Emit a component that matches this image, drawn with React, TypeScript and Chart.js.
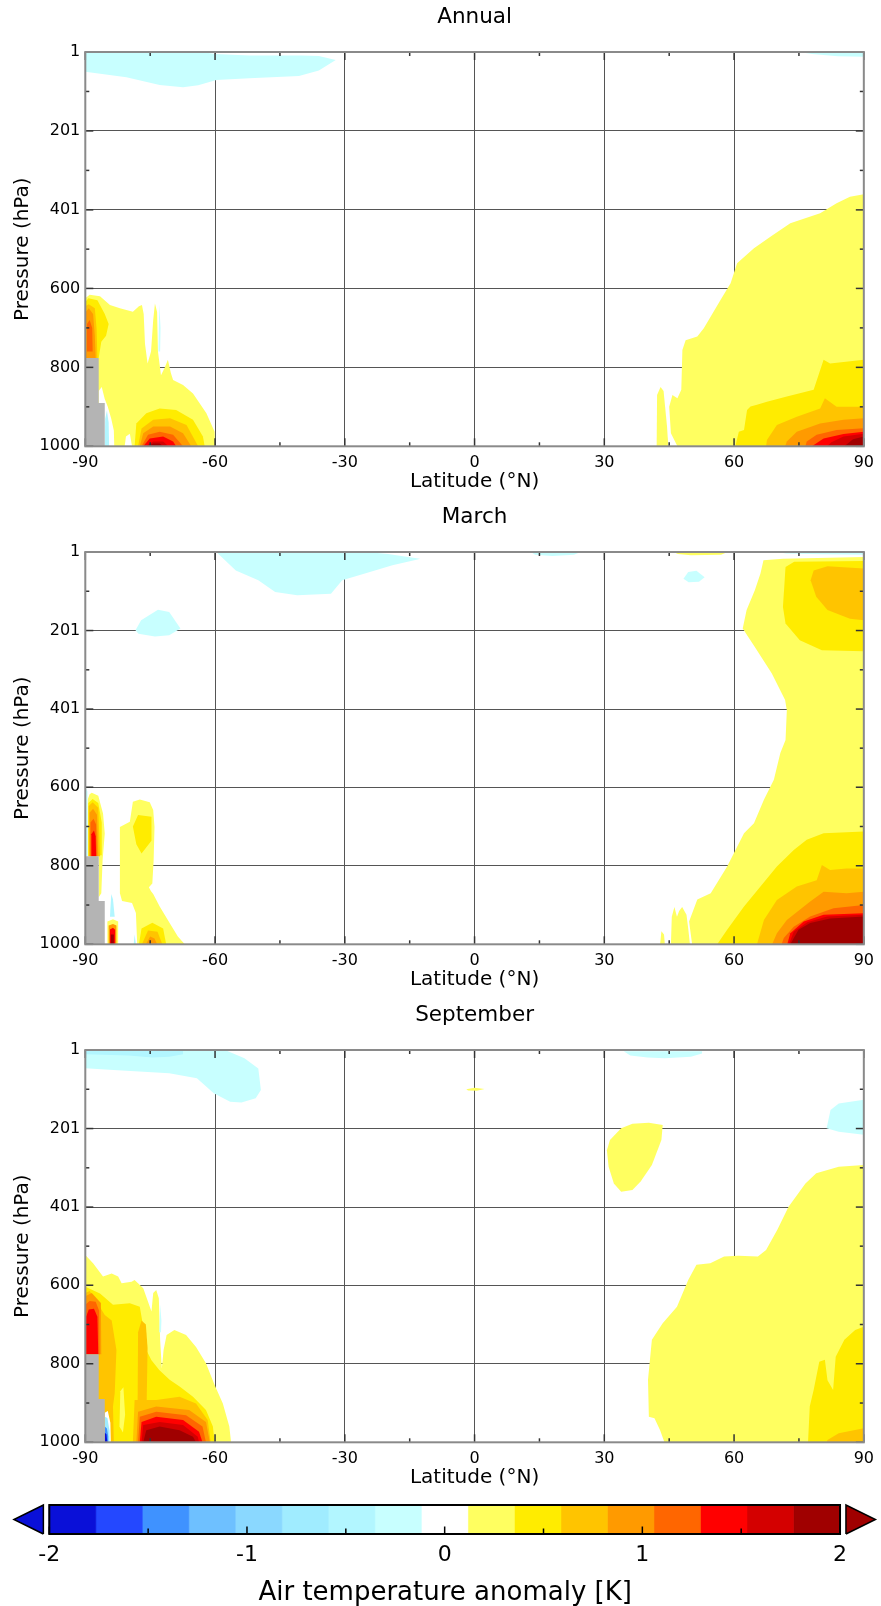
import React, { useEffect, useRef } from 'react';
import { Chart, registerables } from 'chart.js';

Chart.register(...registerables);
Chart.defaults.font.family = "'DejaVu Sans', sans-serif";
Chart.defaults.color = '#000';

// ---- colour scale: 17 bins from -2 to 2 K ----
const LEVEL_COLORS = [
  '#0a10d8', '#2448ff', '#3f92ff', '#6ec0ff', '#8ad8ff', '#a0ecff', '#b2f6ff', '#c8ffff',
  '#ffffff',
  '#ffff60', '#ffec00', '#ffc400', '#ff9a00', '#ff6600', '#ff0000', '#d40000', '#a00000',
];
const LAND_COLOR = '#b4b4b4';
const CBAR_MIN = -2;
const CBAR_MAX = 2;
const CBAR_TICKS = [-2, -1, 0, 1, 2];
const CBAR_MINOR = [-1.5, -0.5, 0.5, 1.5];

// ---- axes ----
const LAT_TICKS = [-90, -60, -30, 0, 30, 60, 90];
const LAT_MINOR = [-75, -45, -15, 15, 45, 75];
const P_TICKS = [1, 201, 401, 600, 800, 1000];
const P_MINOR = [101, 301, 500.5, 700, 900];

type Pt = [number, number]; // [latitude, pressure]
type Shape = [number, Pt[]]; // [level index (or -1 = land), outline]

const LAND: Pt[] = [[-90, 776], [-86.9, 776], [-86.9, 890], [-85.5, 890], [-85.5, 1000], [-90, 1000]];

// ---- Annual ----
const ANNUAL: Shape[] = [
  [7, [[-90, 1], [-63, 1], [-60, 6], [-52, 10], [-40, 10], [-36, 11], [-32.1, 21], [-36, 48], [-40.6, 61.8], [-52.1, 67.7], [-59.7, 72], [-63.9, 85], [-67.4, 90.5], [-72.8, 84.6], [-80.5, 65], [-90, 51]]],
  [7, [[75, 1], [90, 1], [90, 13], [84, 12], [78, 6]]],
  [9, [[-90, 625], [-89, 616], [-86.6, 620], [-84.3, 642], [-82, 650], [-79, 659], [-77.6, 645], [-76.9, 642], [-76.5, 665], [-76.2, 740], [-75.6, 790], [-74.8, 760], [-74.3, 680], [-73.9, 638], [-73.4, 660], [-73.2, 760], [-72.5, 820], [-71.6, 800], [-70.9, 781], [-70.2, 815], [-69.7, 832], [-67.4, 845], [-65.1, 866], [-62, 916], [-60.1, 963], [-60, 1000], [-90, 1000]]],
  [8, [[-86.9, 860], [-86.2, 850], [-85.5, 880], [-84.8, 900], [-84, 930], [-83.4, 960], [-83.3, 1000], [-86.9, 1000]]],
  [6, [[-85.5, 1000], [-85.4, 930], [-85, 910], [-84.6, 940], [-84.5, 1000]]],
  [8, [[-80.9, 1000], [-80.6, 975], [-79.7, 968], [-79.2, 1000]]],
  [7, [[-73.1, 760], [-72.9, 640], [-72.6, 700], [-72.7, 760]]],
  [10, [[-90, 635], [-89.3, 625], [-87.2, 630], [-85.5, 665], [-84.6, 690], [-85.2, 720], [-86.3, 735], [-86.9, 776], [-90, 776]]],
  [11, [[-90, 645], [-89.2, 640], [-87.8, 650], [-87.4, 700], [-87.2, 776], [-90, 776]]],
  [12, [[-89.9, 660], [-89.2, 650], [-88.2, 665], [-87.8, 720], [-87.6, 776], [-89.9, 776]]],
  [13, [[-89.6, 690], [-89, 680], [-88.4, 700], [-88.3, 760], [-89.6, 760]]],
  [10, [[-78.6, 1000], [-78.2, 942], [-75.9, 916], [-72.8, 904], [-69, 908], [-65.1, 933], [-62.8, 975], [-62.4, 1000]]],
  [11, [[-77.8, 1000], [-77, 955], [-74.3, 933], [-70.4, 929], [-66.6, 946], [-63.9, 1000]]],
  [12, [[-77.4, 1000], [-76.6, 967], [-74.3, 950], [-70.4, 950], [-67.4, 967], [-65.5, 1000]]],
  [13, [[-77, 1000], [-75.5, 971], [-72.8, 963], [-69.7, 971], [-67.4, 1000]]],
  [14, [[-76.6, 1000], [-75.1, 980], [-72, 975], [-69.7, 988], [-69, 1000]]],
  [15, [[-76, 1000], [-74.3, 988], [-72, 988], [-70.8, 1000]]],
  [16, [[-75.5, 1000], [-74.3, 993], [-72.8, 993], [-72, 1000]]],
  [9, [[90, 361.6], [86.8, 367.6], [83.7, 384], [79.9, 409.7], [73, 435], [68.4, 469], [64.6, 498], [60.7, 536.5], [59.2, 587], [56.9, 629], [53, 701], [51.5, 722], [48.8, 731], [48.05, 756], [47.8, 857], [46.9, 878], [45.75, 870], [45, 900], [45.4, 967], [46.9, 1000], [90, 1000]]],
  [9, [[42.1, 1000], [42.2, 870], [43, 850], [43.7, 860], [44.5, 950], [44.8, 1000]]],
  [10, [[90, 781], [82.2, 790], [80.7, 781], [78.4, 857], [72.2, 874], [67.6, 887], [65.3, 895], [63.8, 899], [63, 908], [62.3, 959], [61.1, 963], [60.3, 1000], [90, 1000]]],
  [11, [[90, 900], [83.7, 900], [81, 878], [79.9, 904], [74.5, 925], [69.9, 946], [67.6, 984], [67.4, 1000], [90, 1000]]],
  [12, [[90, 929], [85.3, 933], [79.9, 942], [74.5, 963], [72.2, 988], [71.8, 1000], [90, 1000]]],
  [13, [[90, 954], [83.7, 959], [79.1, 971], [76.8, 988], [76.5, 1000], [90, 1000]]],
  [14, [[90, 963], [85.3, 969], [80.7, 980], [78, 1000], [90, 1000]]],
  [15, [[90, 968], [85.3, 975], [82.5, 990], [81.5, 1000], [90, 1000]]],
  [16, [[90, 975], [87.5, 982], [85.5, 1000], [90, 1000]]],
  [-1, LAND],
];

// ---- March ----
const MARCH: Shape[] = [
  [7, [[-59.7, 1], [-25, 1], [-20, 6], [-12.6, 18], [-13.2, 20], [-19, 35], [-24.2, 52], [-30.6, 73], [-33.2, 107], [-41, 111], [-46.1, 103], [-50, 73], [-55.2, 48], [-57.7, 22]]],
  [7, [[-78.4, 200], [-77.1, 175], [-73.2, 148], [-70.6, 154], [-68, 196], [-70.6, 213], [-73.9, 216], [-77.7, 209]]],
  [7, [[48.3, 69], [49.4, 52], [51.3, 49], [53.2, 65], [51.9, 77], [49.5, 78]]],
  [7, [[13, 1], [24.5, 1], [23, 8], [18, 11], [14, 8]]],
  [9, [[46, 1], [58.5, 1], [57, 8], [50, 9], [47, 6]]],
  [7, [[70, 1], [90, 1], [90, 8], [80, 7], [72, 5]]],
  [9, [[90, 13.7], [71.3, 18], [66.8, 22], [66.1, 56], [64.8, 98.5], [62.9, 149], [62, 196], [64.8, 243], [68.7, 310], [71.8, 378], [72.2, 404], [71.9, 480], [70.7, 513], [69.2, 581], [66.9, 632], [64.6, 692], [62.3, 717], [58.4, 802], [54.6, 870], [51.5, 886], [49.6, 942], [50.3, 1000], [90, 1000]]],
  [9, [[45.4, 1000], [45.6, 930], [46.2, 905], [46.8, 930], [47.3, 915], [48, 905], [49, 925], [49.4, 960], [49.8, 1000]]],
  [9, [[42.9, 1000], [43.2, 967], [43.8, 975], [44, 1000]]],
  [10, [[90, 24], [73.9, 26], [71.9, 39], [71.3, 141], [71.9, 183], [75.2, 226], [80.3, 251], [90, 254]]],
  [11, [[90, 43], [81.6, 37], [78.4, 48], [77.7, 73], [79, 115], [81.6, 149], [86.8, 171], [90, 175]]],
  [10, [[90, 713], [80.7, 717], [76.8, 734], [73.8, 760], [69.9, 802], [66.1, 853], [62.3, 904], [58.4, 963], [56.1, 1000], [90, 1000]]],
  [11, [[90, 807], [86, 807], [82.2, 811], [80.3, 798], [79.1, 837], [74.5, 853], [69.9, 887], [66.9, 938], [65.3, 1000], [90, 1000]]],
  [12, [[90, 866], [86, 870], [80.7, 866], [77.6, 891], [72.2, 938], [69.9, 972], [68.8, 1000], [90, 1000]]],
  [13, [[90, 900], [83, 908], [77.6, 929], [73.8, 955], [71.5, 984], [71, 1000], [90, 1000]]],
  [14, [[90, 921], [80.7, 925], [76.1, 942], [73, 972], [72.3, 1000], [90, 1000]]],
  [15, [[90, 925], [81.5, 929], [76.9, 944], [73.8, 968], [72.7, 1000], [90, 1000]]],
  [16, [[90, 929], [82.2, 934], [77.6, 946], [74.9, 963], [73, 1000], [90, 1000]]],
  [7, [[-90, 600], [-89.5, 610], [-89.4, 776], [-90, 776]]],
  [9, [[-89.4, 630], [-89, 618], [-88.5, 614], [-87, 622], [-85.9, 667], [-85.5, 718], [-86, 786], [-86.3, 870], [-86.9, 880], [-86.9, 776], [-89.4, 776]]],
  [10, [[-89.3, 640], [-88.3, 630], [-87, 640], [-86.2, 690], [-86.2, 773], [-89.3, 776]]],
  [11, [[-89.2, 648], [-88.3, 638], [-87, 652], [-86.6, 776], [-89.2, 776]]],
  [12, [[-89, 665], [-88.2, 655], [-87.3, 670], [-87, 776], [-89, 776]]],
  [13, [[-88.8, 690], [-88.1, 680], [-87.5, 695], [-87.3, 776], [-88.8, 776]]],
  [14, [[-88.6, 720], [-88, 710], [-87.6, 725], [-87.5, 776], [-88.6, 776]]],
  [9, [[-82, 701], [-79.7, 688], [-79, 637], [-77.4, 631], [-75.1, 638], [-74.3, 658], [-74, 701], [-74.2, 786], [-74.5, 845], [-75.3, 855], [-74.8, 865], [-74.3, 872], [-72.8, 904], [-70.5, 946], [-68.6, 980], [-67, 1000], [-78, 1000], [-78.3, 920], [-79.2, 895], [-81.5, 890], [-82, 870]]],
  [10, [[-79, 700], [-77.8, 671], [-74.7, 675], [-74.7, 736], [-77, 769], [-78.2, 745]]],
  [10, [[-77.6, 1000], [-77, 960], [-74.5, 945], [-72, 960], [-71.3, 1000]]],
  [11, [[-76.9, 1000], [-75.5, 965], [-73.3, 968], [-72.2, 1000]]],
  [12, [[-76, 1000], [-75, 980], [-74, 985], [-73.4, 1000]]],
  [9, [[-84.9, 1000], [-84.9, 942], [-83.6, 936], [-82.4, 942], [-82.4, 1000]]],
  [12, [[-84.6, 1000], [-84.6, 952], [-83.6, 948], [-82.8, 952], [-82.8, 1000]]],
  [14, [[-84.4, 1000], [-84.3, 962], [-83.6, 958], [-83.1, 963], [-83.1, 1000]]],
  [16, [[-84.1, 1000], [-84.1, 975], [-83.4, 975], [-83.4, 1000]]],
  [6, [[-84.3, 930], [-84, 872], [-83.6, 885], [-83.2, 930]]],
  [6, [[-78.8, 1000], [-78.6, 975], [-78.3, 1000]]],
  [-1, LAND],
];

// ---- September ----
const SEPTEMBER: Shape[] = [
  [7, [[-90, 1], [-57.7, 1], [-53.2, 22], [-50, 48], [-49.4, 103], [-50.6, 124], [-53.9, 135], [-56.5, 133], [-60.3, 111], [-64.2, 73], [-70.6, 60], [-83.5, 52], [-90, 47.7]]],
  [6, [[-90, 1], [-67.4, 1], [-67.4, 12], [-70.6, 18], [-74.5, 20], [-80, 15], [-90, 12]]],
  [7, [[34.5, 4], [52.6, 4], [52.6, 10], [50, 18], [44, 22], [40, 20], [36, 15]]],
  [9, [[-1.9, 101], [0, 97], [2.3, 100], [0.5, 105], [-1.5, 104]]],
  [9, [[30.6, 256], [31.3, 230], [33.9, 200], [36.5, 189], [40.3, 186], [43.5, 192], [43.2, 230], [41, 294], [38.4, 336], [36.5, 357.5], [33.9, 362], [32.2, 341], [31, 298]]],
  [7, [[90, 128], [84.2, 137], [82.3, 154], [81.4, 200], [84.2, 209], [90, 217]]],
  [9, [[90, 294], [84.2, 298], [79, 315], [76.5, 341], [72.6, 400], [70, 459], [67.4, 510], [65.5, 527], [61, 525], [57.7, 527], [54.5, 544], [51.3, 548], [49.4, 587], [46.8, 655], [43.5, 697], [41, 739], [40.1, 841], [40.3, 935], [41.6, 939], [42.9, 969], [43.9, 1000], [90, 1000]]],
  [10, [[90, 706], [88, 714], [85.5, 739], [83.5, 782], [82.9, 867], [81.6, 842], [81, 790], [79.7, 795], [78.4, 867], [77.5, 909], [77.1, 1000], [90, 1000]]],
  [11, [[90, 964], [84.2, 977], [81.6, 994], [81.4, 1000], [90, 1000]]],
  [9, [[-90, 523], [-88.2, 544], [-85.9, 578], [-83.9, 570], [-82.4, 578], [-81.6, 595], [-79.3, 591], [-78.6, 587], [-76.6, 608], [-74.7, 667], [-74.3, 620], [-73.6, 612], [-73, 633], [-72.7, 739], [-72.3, 812], [-71.9, 765], [-71.2, 727], [-69.4, 714], [-66.7, 727], [-64.4, 757], [-62.1, 799], [-60.1, 854], [-58.2, 901], [-56.7, 960], [-56.3, 1000], [-90, 1000]]],
  [10, [[-90, 604], [-86.6, 621], [-83.6, 650], [-79.7, 646], [-77.4, 655], [-76.6, 706], [-75.9, 765], [-74.7, 791], [-72.9, 816], [-70.5, 841], [-68.2, 858], [-65.1, 884], [-62.1, 918], [-60.5, 960], [-60.1, 1000], [-90, 1000]]],
  [11, [[-90, 620], [-89, 615], [-87.5, 640], [-85.5, 676], [-83.9, 690], [-82.8, 765], [-83.2, 875], [-83.6, 909], [-83.4, 1000], [-90, 1000]]],
  [9, [[-82.1, 960], [-81.9, 870], [-81.2, 860], [-80.8, 930], [-81.3, 975]]],
  [11, [[-77.9, 892], [-77.8, 720], [-77, 690], [-76, 700], [-75.6, 760], [-75.8, 892]]],
  [12, [[-90, 628], [-88.5, 620], [-86.4, 645], [-86.3, 776], [-90, 776]]],
  [13, [[-90, 650], [-89, 640], [-87.6, 642], [-86.8, 665], [-86.7, 776], [-90, 776]]],
  [14, [[-89.8, 680], [-89.2, 662], [-88, 660], [-87.2, 680], [-87, 776], [-89.8, 776]]],
  [11, [[-79, 1000], [-78.6, 892], [-73.6, 892], [-68.2, 884], [-64.4, 901], [-61.7, 943], [-61, 1000]]],
  [12, [[-78.2, 1000], [-77.8, 922], [-73.6, 909], [-66, 918], [-62.1, 948], [-61.2, 1000]]],
  [13, [[-77.8, 1000], [-77.4, 935], [-73.6, 922], [-66.7, 931], [-62.9, 960], [-62.1, 1000]]],
  [14, [[-77.4, 1000], [-77, 948], [-73.6, 935], [-67.4, 943], [-63.7, 973], [-62.9, 1000]]],
  [15, [[-77, 1000], [-76.6, 956], [-72.8, 948], [-67.4, 956], [-64, 986], [-63.7, 1000]]],
  [16, [[-76.6, 1000], [-75.9, 969], [-72.8, 960], [-68.2, 969], [-65.1, 986], [-64.4, 1000]]],
  [8, [[-85.5, 1000], [-85.5, 925], [-84.8, 920], [-84.2, 950], [-84.1, 1000]]],
  [5, [[-85.5, 1000], [-85.5, 935], [-84.9, 938], [-84.4, 970], [-84.4, 1000]]],
  [2, [[-85.5, 1000], [-85.5, 960], [-85, 965], [-84.7, 985], [-84.7, 1000]]],
  [0, [[-85.5, 1000], [-85.5, 975], [-85.1, 980], [-84.9, 1000]]],
  [7, [[-72.9, 720], [-72.7, 650], [-72.4, 690], [-72.5, 720]]],
  [-1, LAND],
];

const PANELS = [
  { title: 'Annual', top: 0, height: 500, plotBottom: 446.3, shapes: ANNUAL },
  { title: 'March', top: 500, height: 500, plotBottom: 444.3, shapes: MARCH },
  { title: 'September', top: 998, height: 497, plotBottom: 444.3, shapes: SEPTEMBER },
];

function colorOf(level: number) {
  return level < 0 ? LAND_COLOR : LEVEL_COLORS[level];
}

function polygonDatasets(shapes: Shape[]) {
  return shapes.map(([level, pts], i) => ({
    data: [...pts, pts[0]].map(([x, y]) => ({ x, y })),
    fill: 'shape',
    backgroundColor: colorOf(level),
    borderColor: 'rgba(0,0,0,0)',
    borderWidth: 0,
    pointRadius: 0,
    pointHoverRadius: 0,
    tension: 0,
    order: shapes.length - i,
  }));
}

function strokeLine(ctx: CanvasRenderingContext2D, x1: number, y1: number, x2: number, y2: number) {
  ctx.beginPath();
  ctx.moveTo(x1, y1);
  ctx.lineTo(x2, y2);
  ctx.stroke();
}

const panelFrame = {
  id: 'panelFrame',
  afterDraw(chart: any) {
    const { ctx, chartArea: a, scales } = chart;
    const x = scales.x, y = scales.y;
    ctx.save();
    ctx.strokeStyle = '#333';
    ctx.lineWidth = 1.5;
    const xt = (vals: number[], len: number) => vals.forEach((v) => {
      const px = x.getPixelForValue(v);
      strokeLine(ctx, px, a.top, px, a.top + len);
      strokeLine(ctx, px, a.bottom, px, a.bottom - len);
    });
    const yt = (vals: number[], len: number) => vals.forEach((v) => {
      const py = y.getPixelForValue(v);
      strokeLine(ctx, a.left, py, a.left + len, py);
      strokeLine(ctx, a.right, py, a.right - len, py);
    });
    xt(LAT_TICKS, 8); xt(LAT_MINOR, 4);
    yt(P_TICKS, 8); yt(P_MINOR, 4);
    ctx.strokeStyle = '#8a8a8a';
    ctx.lineWidth = 2;
    ctx.strokeRect(a.left, a.top, a.right - a.left, a.bottom - a.top);
    ctx.restore();
  },
};

function Panel({ cfg }: { cfg: typeof PANELS[number] }) {
  const ref = useRef<HTMLCanvasElement>(null);
  useEffect(() => {
    const chart = new Chart(ref.current as HTMLCanvasElement, {
      type: 'line',
      data: { datasets: polygonDatasets(cfg.shapes) as any },
      plugins: [panelFrame],
      options: {
        animation: false,
        responsive: false,
        maintainAspectRatio: false,
        devicePixelRatio: 1,
        events: [],
        layout: { padding: { left: 0, right: 13.7, top: 0, bottom: cfg.height - cfg.plotBottom - 52 } },
        plugins: {
          legend: { display: false },
          tooltip: { enabled: false },
          title: {
            display: true,
            fullSize: false,
            text: cfg.title,
            color: '#000',
            font: { size: 21.5, weight: 'normal' as any, lineHeight: 1.2 },
            padding: { top: 4.5, bottom: 21.7 },
          },
        },
        scales: {
          x: {
            type: 'linear',
            min: -90,
            max: 90,
            z: 1,
            afterBuildTicks: (s: any) => { s.ticks = LAT_TICKS.map((v) => ({ value: v })); },
            afterFit: (s: any) => { s.height = 52; },
            ticks: { font: { size: 16 }, color: '#000', padding: 7, maxRotation: 0, autoSkip: false, callback: (v: any) => String(v) },
            grid: { color: '#555', lineWidth: 1, drawTicks: false },
            border: { display: false },
            title: { display: true, text: 'Latitude (°N)', color: '#000', font: { size: 20 }, padding: { top: 0, bottom: 4.3 } },
          },
          y: {
            type: 'linear',
            min: 1,
            max: 1000,
            reverse: true,
            z: 1,
            afterBuildTicks: (s: any) => { s.ticks = P_TICKS.map((v) => ({ value: v })); },
            afterFit: (s: any) => { s.width = 85.3; },
            ticks: { font: { size: 16 }, color: '#000', padding: 5, autoSkip: false, callback: (v: any) => String(v) },
            grid: { color: '#555', lineWidth: 1, drawTicks: false },
            border: { display: false },
            title: { display: true, text: 'Pressure (hPa)', color: '#000', font: { size: 20 }, padding: { top: 10.5, bottom: 0 } },
          },
        },
      } as any,
    });
    return () => chart.destroy();
  }, []);
  return (
    <canvas
      ref={ref}
      width={881}
      height={cfg.height}
      style={{ position: 'absolute', left: 0, top: cfg.top, width: 881, height: cfg.height }}
    />
  );
}

// colour bar end arrows, in anomaly units
const ARROW_LEN = 0.149;
const ARROW_GAP = 0.03;

const cbarFrame = {
  id: 'cbarFrame',
  afterDraw(chart: any) {
    const { ctx, chartArea: a, scales } = chart;
    const x = scales.x;
    ctx.save();
    ctx.strokeStyle = '#000';
    ctx.lineWidth = 1.5;
    CBAR_TICKS.forEach((v) => { const px = x.getPixelForValue(v); strokeLine(ctx, px, a.bottom, px, a.bottom - 7.5); });
    CBAR_MINOR.forEach((v) => { const px = x.getPixelForValue(v); strokeLine(ctx, px, a.bottom, px, a.bottom - 5.5); });
    const l = x.getPixelForValue(CBAR_MIN), r = x.getPixelForValue(CBAR_MAX);
    ctx.lineWidth = 2;
    ctx.strokeRect(l, a.top, r - l, a.bottom - a.top);
    ctx.restore();
  },
};

function ColorBar() {
  const ref = useRef<HTMLCanvasElement>(null);
  useEffect(() => {
    const n = LEVEL_COLORS.length;
    const step = (CBAR_MAX - CBAR_MIN) / n;
    const cells = LEVEL_COLORS.map((c, i) => {
      const lo = CBAR_MIN + i * step, hi = lo + step;
      return {
        data: [{ x: lo, y: 0 }, { x: hi, y: 0 }, { x: hi, y: 1 }, { x: lo, y: 1 }, { x: lo, y: 0 }],
        fill: 'shape', backgroundColor: c, borderColor: c, borderWidth: 0.5, pointRadius: 0, tension: 0,
      };
    });
    const lb = CBAR_MIN - ARROW_GAP, rb = CBAR_MAX + ARROW_GAP;
    const arrows = [
      { pts: [[lb, 0], [lb, 1], [lb - ARROW_LEN, 0.5], [lb, 0]], c: LEVEL_COLORS[0] },
      { pts: [[rb, 0], [rb, 1], [rb + ARROW_LEN, 0.5], [rb, 0]], c: LEVEL_COLORS[n - 1] },
    ].map((t) => ({
      data: t.pts.map(([x, y]) => ({ x, y })),
      fill: 'shape', backgroundColor: t.c, borderColor: '#000', borderWidth: 1.5, pointRadius: 0, tension: 0, clip: 6,
    }));
    const chart = new Chart(ref.current as HTMLCanvasElement, {
      type: 'line',
      data: { datasets: [...cells, ...arrows] as any },
      plugins: [cbarFrame],
      options: {
        animation: false,
        responsive: false,
        maintainAspectRatio: false,
        devicePixelRatio: 1,
        events: [],
        layout: { padding: { left: 13.72, right: 4.4, top: 10, bottom: 0 } },
        plugins: { legend: { display: false }, tooltip: { enabled: false } },
        scales: {
          x: {
            type: 'linear',
            min: -2.18,
            max: 2.185,
            afterBuildTicks: (s: any) => { s.ticks = CBAR_TICKS.map((v) => ({ value: v })); },
            afterFit: (s: any) => { s.height = 72; },
            ticks: { font: { size: 22 }, color: '#000', padding: 8.5, maxRotation: 0, autoSkip: false, callback: (v: any) => String(v) },
            grid: { display: false, drawTicks: false },
            border: { display: false },
            title: { display: true, text: 'Air temperature anomaly [K]', color: '#000', font: { size: 26, lineHeight: 1 }, padding: { top: 0, bottom: 0 } },
          },
          y: { type: 'linear', min: 0, max: 1, display: false },
        },
      } as any,
    });
    return () => chart.destroy();
  }, []);
  return (
    <canvas
      ref={ref}
      width={881}
      height={111}
      style={{ position: 'absolute', left: 0, top: 1495, width: 881, height: 111 }}
    />
  );
}

export default function App() {
  return (
    <div style={{ position: 'absolute', left: 0, top: 0, width: 881, height: 1606, background: '#fff' }}>
      {PANELS.map((p) => <Panel key={p.title} cfg={p} />)}
      <ColorBar />
    </div>
  );
}
